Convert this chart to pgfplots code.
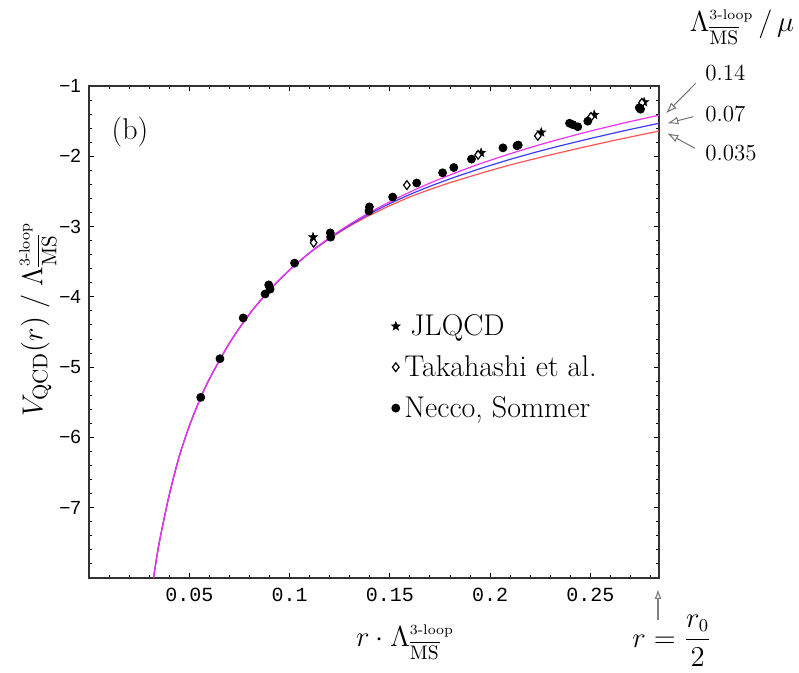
\documentclass[border=0pt]{standalone}
\usepackage{fontspec}
\usepackage{amsmath}
\usepackage{pgfplots}
\pgfplotsset{compat=1.18}
\usetikzlibrary{arrows.meta}
\newfontfamily\monofont{Liberation Mono}
\newfontfamily\tickfont{Liberation Sans}
\definecolor{cmag}{RGB}{240,50,240}
\definecolor{cblue}{RGB}{60,60,255}
\definecolor{cred}{RGB}{255,85,85}
\newcommand{\LMS}{\Lambda^{\scriptscriptstyle\text{3-loop}}_{\overline{\mathrm{MS}}}}
\pgfdeclareplotmark{fstar}{%
  \pgfpathmoveto{\pgfpointpolar{90}{\pgfplotmarksize}}%
  \pgfpathlineto{\pgfpointpolar{126}{0.42\pgfplotmarksize}}%
  \pgfpathlineto{\pgfpointpolar{162}{\pgfplotmarksize}}%
  \pgfpathlineto{\pgfpointpolar{198}{0.42\pgfplotmarksize}}%
  \pgfpathlineto{\pgfpointpolar{234}{\pgfplotmarksize}}%
  \pgfpathlineto{\pgfpointpolar{270}{0.42\pgfplotmarksize}}%
  \pgfpathlineto{\pgfpointpolar{306}{\pgfplotmarksize}}%
  \pgfpathlineto{\pgfpointpolar{342}{0.42\pgfplotmarksize}}%
  \pgfpathlineto{\pgfpointpolar{18}{\pgfplotmarksize}}%
  \pgfpathlineto{\pgfpointpolar{54}{0.42\pgfplotmarksize}}%
  \pgfpathclose
  \pgfusepathqfillstroke
}
\begin{document}
\begin{tikzpicture}
\useasboundingbox (-44.5pt,-47.5pt) rectangle (355pt,289pt);
\begin{axis}[
  at={(0pt,0pt)}, anchor=south west,
  scale only axis, width=285pt, height=246pt,
  xmin=0, xmax=0.2842, ymin=-8, ymax=-1,
  xtick={0,0.05,0.1,0.15,0.2,0.25},
  xticklabels={,0.05,0.1,0.15,0.2,0.25},
  minor xtick={0.01,0.02,0.03,0.04,0.06,0.07,0.08,0.09,0.11,0.12,0.13,0.14,0.16,0.17,0.18,0.19,0.21,0.22,0.23,0.24,0.26,0.27,0.28},
  ytick={-7,-6,-5,-4,-3,-2,-1},
  yticklabels={−7,−6,−5,−4,−3,−2,−1},
  minor ytick={-7.8,-7.6,-7.4,-7.2,-6.8,-6.6,-6.4,-6.2,-5.8,-5.6,-5.4,-5.2,-4.8,-4.6,-4.4,-4.2,-3.8,-3.6,-3.4,-3.2,-2.8,-2.6,-2.4,-2.2,-1.8,-1.6,-1.4,-1.2},
  tick align=inside,
  xtick pos=both, ytick pos=both,
  xticklabel pos=lower, yticklabel pos=left,
  major tick length=2.5pt, minor tick length=1.3pt,
  xticklabel style={font=\monofont\fontsize{10}{12}\selectfont, yshift=-1.5pt},
  yticklabel style={font=\tickfont\fontsize{9.5}{11}\selectfont, xshift=-0.5pt},
  axis line style={black!80, line width=0.8pt},
  every tick/.style={black, line width=0.5pt},
  legend cell align=left,
  legend style={draw=none, fill=none, font=\fontsize{15}{18}\selectfont,
    at={(axis description cs:0.519,0.553)}, anchor=north west, row sep=4.5pt},
]
% curves
\addplot[color=cred, line width=0.6pt, smooth, forget plot] coordinates {
(0.031,-8.22) (0.032,-8.03) (0.035,-7.50) (0.040,-6.82) (0.045,-6.27) (0.050,-5.84)
(0.055,-5.48) (0.060,-5.17) (0.070,-4.66) (0.080,-4.245) (0.090,-3.905) (0.100,-3.618)
(0.110,-3.374) (0.120,-3.172) (0.130,-2.993) (0.140,-2.839) (0.150,-2.703) (0.160,-2.579)
(0.170,-2.472) (0.180,-2.376) (0.190,-2.288) (0.200,-2.203) (0.210,-2.124) (0.220,-2.051)
(0.230,-1.981) (0.240,-1.914) (0.250,-1.849) (0.260,-1.786) (0.270,-1.725) (0.2842,-1.641)};
\addplot[color=cblue, line width=0.6pt, smooth, forget plot] coordinates {
(0.031,-8.22) (0.032,-8.03) (0.035,-7.50) (0.040,-6.82) (0.045,-6.27) (0.050,-5.84)
(0.055,-5.48) (0.060,-5.17) (0.070,-4.66) (0.080,-4.245) (0.090,-3.905) (0.100,-3.618)
(0.110,-3.373) (0.120,-3.165) (0.130,-2.980) (0.140,-2.817) (0.150,-2.673) (0.160,-2.544)
(0.170,-2.427) (0.180,-2.321) (0.190,-2.223) (0.200,-2.131) (0.210,-2.044) (0.220,-1.963)
(0.230,-1.887) (0.240,-1.816) (0.250,-1.747) (0.260,-1.681) (0.270,-1.617) (0.2842,-1.531)};
\addplot[color=cmag, line width=0.6pt, smooth, forget plot] coordinates {
(0.031,-8.22) (0.032,-8.03) (0.035,-7.50) (0.040,-6.82) (0.045,-6.27) (0.050,-5.84)
(0.055,-5.48) (0.060,-5.17) (0.070,-4.66) (0.080,-4.245) (0.090,-3.905) (0.100,-3.618)
(0.110,-3.372) (0.120,-3.157) (0.130,-2.968) (0.140,-2.799) (0.150,-2.648) (0.160,-2.509)
(0.170,-2.382) (0.180,-2.266) (0.190,-2.158) (0.200,-2.058) (0.210,-1.964) (0.220,-1.876)
(0.230,-1.793) (0.240,-1.716) (0.250,-1.642) (0.260,-1.572) (0.270,-1.505) (0.2842,-1.416)};
% data
\addplot[only marks, mark=fstar, mark size=2.4pt, mark options={fill=black, draw=black, line width=0.2pt}] coordinates {
(0.1117,-3.15) (0.1955,-1.95) (0.2255,-1.66) (0.2519,-1.41) (0.2768,-1.23)};
\addlegendentry{\hspace{3pt}JLQCD}
\addplot[only marks, mark=diamond*, mark size=2.2pt, mark options={fill=white, draw=black, line width=0.6pt}] coordinates {
(0.1120,-3.23) (0.1585,-2.41) (0.1940,-1.98) (0.2238,-1.71) (0.2503,-1.44) (0.2757,-1.24)};
\addlegendentry{Takahashi et al.}
\addplot[only marks, mark=*, mark size=2.0pt, mark options={fill=black, draw=black}] coordinates {
(0.0557,-5.43) (0.0653,-4.88) (0.0769,-4.30) (0.0878,-3.96) (0.0903,-3.89) (0.0896,-3.83)
(0.1025,-3.52) (0.1203,-3.09) (0.1205,-3.15) (0.1398,-2.72) (0.1396,-2.78) (0.1514,-2.58)
(0.1634,-2.38) (0.1763,-2.235) (0.1819,-2.16) (0.1907,-2.04) (0.2064,-1.88) (0.2134,-1.85)
(0.2140,-1.84) (0.2396,-1.53) (0.2412,-1.55) (0.2437,-1.58) (0.2487,-1.50) (0.2744,-1.31)
(0.2750,-1.33)};
\addlegendentry{Necco, Sommer}
\end{axis}
% annotations
\node at (20.5pt,223.2pt) {\fontsize{15}{18}\selectfont (b)};
\node[rotate=90] at (-25.5pt,129pt) {\fontsize{15}{18}\selectfont $V_{\mathrm{QCD}}(r)\;/\;\LMS$};
\node at (158pt,-32pt) {\fontsize{14}{17}\selectfont $r\cdot\LMS$};
\node at (291.5pt,-31.5pt) {\fontsize{13.5}{16}\selectfont $r=\dfrac{r_0}{2}$};
\draw[gray, line width=0.6pt, -{Latex[open,length=5pt,width=3.5pt]}] (284.5pt,-21pt) -- (284.5pt,-5.5pt);
\node at (326.5pt,275.5pt) {\fontsize{14}{17}\selectfont $\LMS\,/\,\mu$};
\node[anchor=west, inner sep=0pt] at (308pt,252.75pt) {\fontsize{11.5}{13}\selectfont 0.14};
\node[anchor=west, inner sep=0pt] at (308pt,232.25pt) {\fontsize{11.5}{13}\selectfont 0.07};
\node[anchor=west, inner sep=0pt] at (308pt,212.5pt) {\fontsize{11.5}{13}\selectfont 0.035};
\draw[black!55, line width=0.5pt, -{Latex[open,length=5.5pt,width=4pt]}] (303.35pt,247.35pt) -- (288.5pt,232.35pt);
\draw[black!55, line width=0.5pt, -{Latex[open,length=5.5pt,width=4pt]}] (302.15pt,230.65pt) -- (289.15pt,227.35pt);
\draw[black!55, line width=0.5pt, -{Latex[open,length=5.5pt,width=4pt]}] (303pt,214.85pt) -- (289.15pt,222.35pt);
\end{tikzpicture}
\end{document}
